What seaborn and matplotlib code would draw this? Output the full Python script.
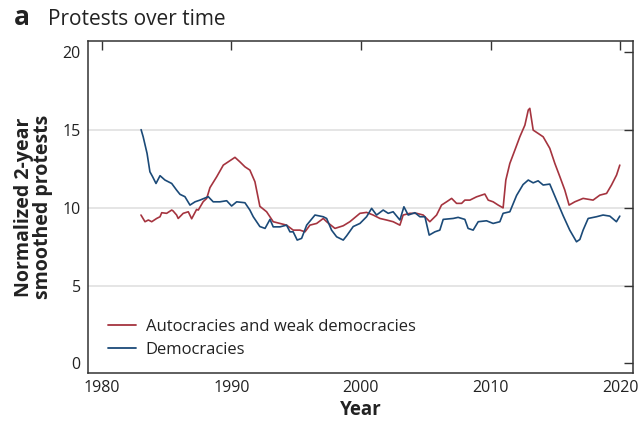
import matplotlib
matplotlib.use("Agg")
import matplotlib.pyplot as plt
import seaborn as sns
import pandas as pd

# Autocracies and weak democracies (red)
auto_year = [1983.03, 1983.34, 1983.6, 1983.86, 1984.24, 1984.5, 1984.63, 1985.01, 1985.4, 1985.5,
             1985.78, 1985.9, 1986.29, 1986.68, 1986.94, 1987.32, 1987.45, 1987.83, 1988.1, 1988.35,
             1988.87, 1989.38, 1989.76, 1990.28, 1990.66, 1991.05, 1991.43, 1991.82, 1992.2, 1992.72,
             1993.23, 1993.75, 1994.26, 1994.77, 1995.29, 1995.68, 1996.06, 1996.58, 1997.09, 1997.35,
             1997.99, 1998.63, 1999.14, 1999.92, 2000.43, 2000.94, 2001.46, 2001.97, 2002.48, 2003.0,
             2003.25, 2003.77, 2004.29, 2004.8, 2005.31, 2005.83, 2006.21, 2006.6, 2006.99, 2007.37,
             2007.76, 2008.01, 2008.4, 2008.91, 2009.55, 2009.81, 2010.19, 2010.58, 2010.96, 2011.17,
             2011.48, 2011.87, 2012.25, 2012.64, 2012.9, 2013.02, 2013.28, 2013.66, 2014.05, 2014.56,
             2014.95, 2015.34, 2015.72, 2016.05, 2016.49, 2017.13, 2017.9, 2018.42, 2018.94, 2019.32,
             2019.71, 2019.96]
auto_val = [9.54, 9.11, 9.22, 9.11, 9.32, 9.43, 9.69, 9.65, 9.86, 9.81,
            9.54, 9.32, 9.65, 9.75, 9.3, 9.9, 9.86, 10.4, 10.61, 11.3,
            12.0, 12.75, 12.96, 13.25, 12.96, 12.64, 12.43, 11.68, 10.1, 9.75,
            9.11, 9.0, 8.89, 8.57, 8.57, 8.46, 8.89, 9.0, 9.32, 9.11,
            8.68, 8.85, 9.11, 9.65, 9.71, 9.54, 9.32, 9.22, 9.11, 8.89,
            9.54, 9.65, 9.65, 9.54, 9.11, 9.54, 10.18, 10.39, 10.61, 10.29,
            10.29, 10.5, 10.5, 10.71, 10.89, 10.5, 10.39, 10.18, 10.0, 11.79,
            12.86, 13.72, 14.57, 15.32, 16.29, 16.4, 15.0, 14.79, 14.57, 13.83,
            12.86, 12.0, 11.14, 10.18, 10.39, 10.61, 10.5, 10.82, 10.93, 11.47,
            12.11, 12.75]

# Democracies (blue)
demo_year = [1983.04, 1983.2, 1983.5, 1983.72, 1983.93, 1984.19, 1984.5, 1984.88, 1985.4, 1985.78,
             1986.04, 1986.42, 1986.81, 1987.2, 1987.58, 1988.22, 1988.6, 1989.12, 1989.64, 1990.02,
             1990.41, 1991.05, 1991.43, 1991.69, 1992.2, 1992.6, 1992.98, 1993.23, 1993.75, 1994.26,
             1994.52, 1994.77, 1995.08, 1995.42, 1995.81, 1996.45, 1997.09, 1997.35, 1997.73, 1998.12,
             1998.63, 1998.89, 1999.4, 1999.92, 2000.43, 2000.82, 2001.2, 2001.71, 2002.1, 2002.48,
             2003.0, 2003.31, 2003.64, 2004.16, 2004.54, 2004.93, 2005.26, 2005.7, 2006.08, 2006.34,
             2007.11, 2007.49, 2008.01, 2008.26, 2008.65, 2009.04, 2009.68, 2010.19, 2010.71, 2010.96,
             2011.48, 2012.0, 2012.5, 2012.9, 2013.28, 2013.66, 2014.05, 2014.56, 2015.08, 2015.59,
             2016.1, 2016.62, 2016.88, 2017.13, 2017.52, 2018.16, 2018.67, 2019.19, 2019.7, 2019.96]
demo_val = [15.03, 14.57, 13.5, 12.32, 12.0, 11.57, 12.07, 11.79, 11.57, 11.14,
            10.87, 10.72, 10.18, 10.39, 10.5, 10.72, 10.39, 10.39, 10.46, 10.12,
            10.39, 10.33, 9.86, 9.43, 8.8, 8.68, 9.26, 8.78, 8.78, 8.89,
            8.46, 8.46, 7.93, 8.04, 8.89, 9.54, 9.43, 9.32, 8.57, 8.14,
            7.93, 8.2, 8.8, 9.0, 9.43, 9.97, 9.54, 9.86, 9.65, 9.75,
            9.22, 10.07, 9.54, 9.69, 9.43, 9.43, 8.25, 8.46, 8.57, 9.26,
            9.32, 9.39, 9.26, 8.68, 8.57, 9.11, 9.17, 9.0, 9.11, 9.65,
            9.75, 10.8, 11.5, 11.79, 11.61, 11.74, 11.47, 11.53, 10.5, 9.5,
            8.57, 7.82, 7.97, 8.57, 9.32, 9.43, 9.54, 9.47, 9.11, 9.47]

series_names = ["Autocracies and weak democracies", "Democracies"]
colors = {"Autocracies and weak democracies": "#a5343f", "Democracies": "#1b4a78"}
x_ticks = [1980, 1990, 2000, 2010, 2020]
y_ticks = [0, 5, 10, 15, 20]

df = pd.concat([
    pd.DataFrame({"Year": auto_year, "Value": auto_val, "Series": series_names[0]}),
    pd.DataFrame({"Year": demo_year, "Value": demo_val, "Series": series_names[1]}),
])

sns.set_theme(style="white")
plt.rcParams["font.family"] = ["Open Sans", "DejaVu Sans"]

fig = plt.figure(figsize=(6.4, 4.25), dpi=100)
ax = fig.add_axes([0.137, 0.123, 0.8525, 0.7805])

sns.lineplot(data=df, x="Year", y="Value", hue="Series", hue_order=series_names,
             palette=colors, linewidth=1.2, ax=ax, estimator=None, sort=True)

ax.set_xlim(1978.92, 2021.0)
ax.set_ylim(-0.6, 20.73)
ax.set_xticks(x_ticks)
ax.set_yticks(y_ticks)
ax.tick_params(direction="in", top=True, right=True, length=6.5, width=1.0,
               color="#333333", labelsize=11.5, labelcolor="#222222", pad=5)
ax.tick_params(axis="x", labeltop=False)
ax.tick_params(axis="y", labelright=False)
for s in ax.spines.values():
    s.set_color("#333333")
    s.set_linewidth(1.1)

ax.yaxis.grid(True, color="#e3e3e3", linewidth=1.3)
for tick_val, gl in zip(ax.get_yticks(), ax.get_ygridlines()):
    if tick_val in (y_ticks[0], y_ticks[-1]):
        gl.set_visible(False)
ax.set_axisbelow(True)

ax.set_xlabel("Year", fontsize=13.5, fontweight="bold", color="#222222", labelpad=3)
ax.set_ylabel("Normalized 2-year\nsmoothed protests", fontsize=14, fontweight="bold",
              color="#222222", labelpad=7, linespacing=0.92)

leg = ax.legend(loc="lower left", bbox_to_anchor=(0.01, 0.0), frameon=False,
                fontsize=12, handlelength=1.7, handletextpad=0.55, labelspacing=0.4)
for line in leg.get_lines():
    line.set_linewidth(1.3)
for t in leg.get_texts():
    t.set_color("#222222")

fig.text(14 / 640, 1 - 25 / 425, "a", fontsize=19, fontweight="bold", color="#222222")
fig.text(48 / 640, 1 - 25 / 425, "Protests over time", fontsize=15, color="#222222")

fig.savefig("out.png", dpi=100)
